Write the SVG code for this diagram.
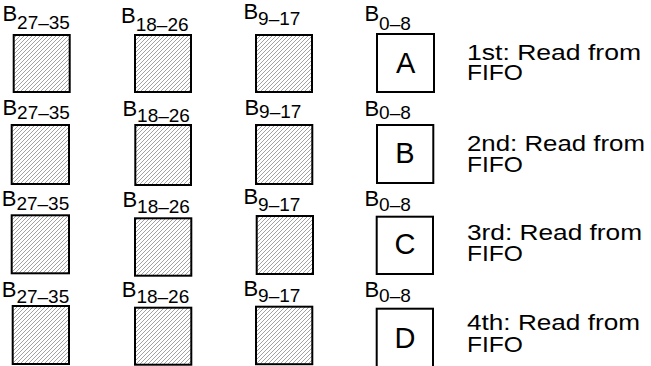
<svg xmlns="http://www.w3.org/2000/svg" width="651" height="366" viewBox="0 0 651 366">
<defs>
<pattern id="hatch" patternUnits="userSpaceOnUse" width="4" height="4">
<path d="M-1,1 l2,-2 M0,4 l4,-4 M3,5 l2,-2" stroke="#444" stroke-width="0.5"/>
</pattern>
</defs>
<style>
.hb{fill:url(#hatch);stroke:#000;stroke-width:2}
.wb{fill:#fff;stroke:#000;stroke-width:2}
.lbl{font-family:"Liberation Sans",Arial,sans-serif;font-size:22px;fill:#000}
.sub{font-size:19px}
.let{font-family:"Liberation Sans",Arial,sans-serif;font-size:29px;fill:#000;text-anchor:middle}
.note{font-family:"Liberation Sans",Arial,sans-serif;font-size:22px;fill:#000}
</style>
<rect width="651" height="366" fill="#fff"/>
<g id="connectors"/>
<!-- Row 1 -->
<g id="r1c1"><text class="lbl" x="2.4" y="20.5">B<tspan class="sub" dy="8.8">27–35</tspan></text><rect class="hb" x="13.7" y="35" width="56" height="57"/></g>
<g id="r1c2"><text class="lbl" x="121" y="22.7">B<tspan class="sub" dy="8">18–26</tspan></text><rect class="hb" x="135" y="35" width="56" height="57"/></g>
<g id="r1c3"><text class="lbl" x="243.4" y="19.3">B<tspan class="sub" dy="5.7">9–17</tspan></text><rect class="hb" x="256" y="35" width="56" height="57"/></g>
<g id="r1c4"><text class="lbl" x="364.4" y="20.7">B<tspan class="sub" dy="9.3">0–8</tspan></text><rect class="wb" x="377" y="34" width="57" height="58"/><text class="let" x="405.7" y="72.7">A</text></g>
<g id="r1note"><text class="note" x="467" y="60" textLength="174" lengthAdjust="spacingAndGlyphs">1st: Read from</text><text class="note" x="467" y="80" textLength="56" lengthAdjust="spacingAndGlyphs">FIFO</text></g>
<!-- Row 2 -->
<g id="r2c1"><text class="lbl" x="2.4" y="115">B<tspan class="sub" dy="4.3">27–35</tspan></text><rect class="hb" x="11.7" y="125" width="57.3" height="59"/></g>
<g id="r2c2"><text class="lbl" x="122.4" y="115.5">B<tspan class="sub" dy="6.2">18–26</tspan></text><rect class="hb" x="135.3" y="125" width="55.7" height="60"/></g>
<g id="r2c3"><text class="lbl" x="244.4" y="115">B<tspan class="sub" dy="3.3">9–17</tspan></text><rect class="hb" x="256" y="125" width="56.3" height="59"/></g>
<g id="r2c4"><text class="lbl" x="364.4" y="116">B<tspan class="sub" dy="3.3">0–8</tspan></text><rect class="wb" x="377" y="125" width="56.3" height="58"/><text class="let" x="405" y="163.3">B</text></g>
<g id="r2note"><text class="note" x="467" y="151" textLength="178" lengthAdjust="spacingAndGlyphs">2nd: Read from</text><text class="note" x="467" y="171.5" textLength="56" lengthAdjust="spacingAndGlyphs">FIFO</text></g>
<!-- Row 3 -->
<g id="r3c1"><text class="lbl" x="1.7" y="206">B<tspan class="sub" dy="4">27–35</tspan></text><rect class="hb" x="11.7" y="215.3" width="57.3" height="58"/></g>
<g id="r3c2"><text class="lbl" x="122.4" y="207.3">B<tspan class="sub" dy="6">18–26</tspan></text><rect class="hb" x="135" y="218.3" width="56.3" height="57.4"/></g>
<g id="r3c3"><text class="lbl" x="243.4" y="204">B<tspan class="sub" dy="6.7">9–17</tspan></text><rect class="hb" x="256.7" y="216" width="56.3" height="58"/></g>
<g id="r3c4"><text class="lbl" x="364.4" y="206">B<tspan class="sub" dy="4.7">0–8</tspan></text><rect class="wb" x="376.7" y="216.7" width="56.3" height="57.3"/><text class="let" x="405" y="253.7">C</text></g>
<g id="r3note"><text class="note" x="467" y="240" textLength="175" lengthAdjust="spacingAndGlyphs">3rd: Read from</text><text class="note" x="467" y="261" textLength="56" lengthAdjust="spacingAndGlyphs">FIFO</text></g>
<!-- Row 4 -->
<g id="r4c1"><text class="lbl" x="1.7" y="297.3">B<tspan class="sub" dy="5.4">27–35</tspan></text><rect class="hb" x="12.7" y="306" width="56.3" height="58"/></g>
<g id="r4c2"><text class="lbl" x="121.7" y="297.3">B<tspan class="sub" dy="6">18–26</tspan></text><rect class="hb" x="135" y="307.7" width="56.3" height="57"/></g>
<g id="r4c3"><text class="lbl" x="243.4" y="296">B<tspan class="sub" dy="5.7">9–17</tspan></text><rect class="hb" x="256" y="306.7" width="56.3" height="57.5"/></g>
<g id="r4c4"><text class="lbl" x="364.4" y="297.3">B<tspan class="sub" dy="4.4">0–8</tspan></text><rect class="wb" x="376.7" y="308.7" width="56.3" height="70"/><text class="let" x="405" y="348.3">D</text></g>
<g id="r4note"><text class="note" x="467" y="330" textLength="173" lengthAdjust="spacingAndGlyphs">4th: Read from</text><text class="note" x="467" y="351.5" textLength="56" lengthAdjust="spacingAndGlyphs">FIFO</text></g>
</svg>
